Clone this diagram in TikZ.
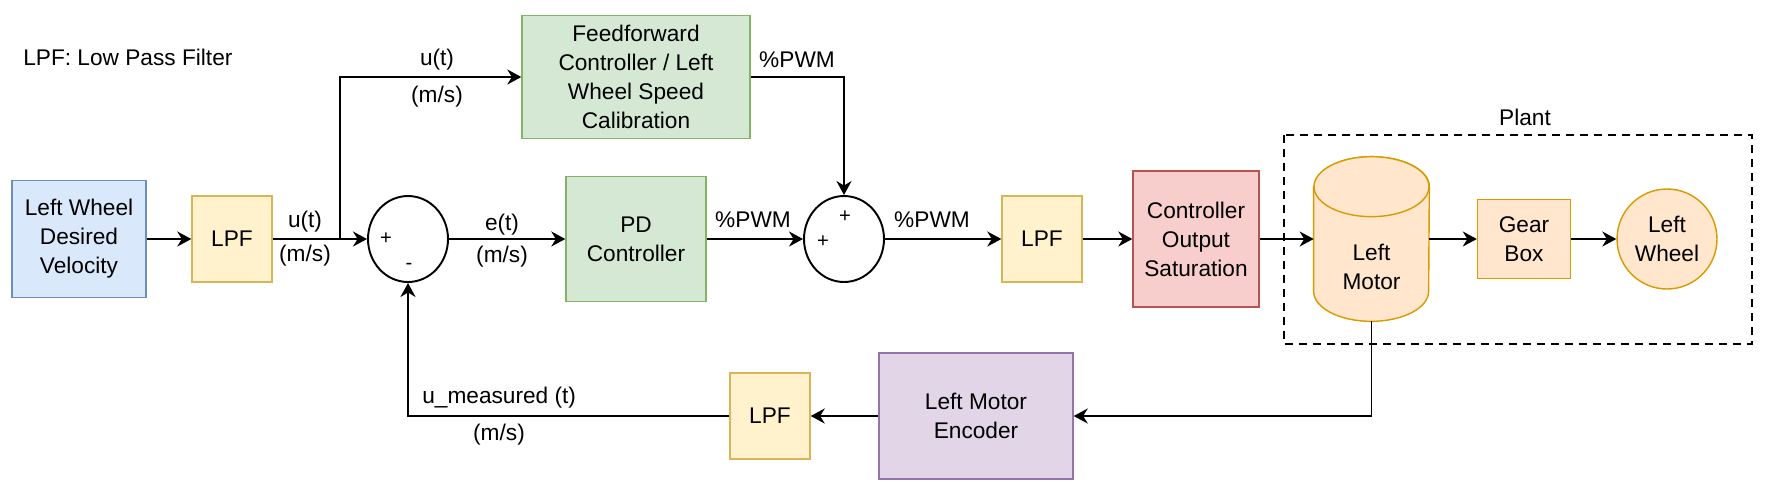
\documentclass[tikz,border=0pt]{standalone}
\usepackage{fontspec}
\setmainfont{Liberation Sans}
\usetikzlibrary{arrows.meta,shapes.geometric}

\definecolor{blueFill}{HTML}{DAE8FC}
\definecolor{blueLine}{HTML}{6C8EBF}
\definecolor{lpfFill}{HTML}{FFF2CC}
\definecolor{lpfLine}{HTML}{D6B656}
\definecolor{greenFill}{HTML}{D5E8D4}
\definecolor{greenLine}{HTML}{82B366}
\definecolor{redFill}{HTML}{F8CECC}
\definecolor{redLine}{HTML}{B85450}
\definecolor{plantFill}{HTML}{FFE6CC}
\definecolor{plantLine}{HTML}{D79B00}
\definecolor{purpleFill}{HTML}{E1D5E7}
\definecolor{purpleLine}{HTML}{9673A6}

\tikzset{
  conn/.style={line width=1.1pt,-{Stealth[length=0.28cm,width=0.3cm,inset=0.09cm]}},
  box/.style={rectangle,line width=0.8pt},
  lpf/.style={box,draw=lpfLine,fill=lpfFill,minimum width=1.6cm,minimum height=1.72cm},
  sumj/.style={ellipse,draw,line width=1.1pt,minimum width=1.6cm,minimum height=1.72cm},
  sign/.style={font=\fontsize{11.5}{13}\selectfont},
  plantpart/.style={draw=plantLine,fill=plantFill,line width=0.8pt},
  plantbox/.style={line width=1.1pt,dash pattern=on 0.16cm off 0.12cm}
}

\begin{document}
\begin{tikzpicture}[x=0.02cm,y=-0.02cm]
\tikzstyle{every node}+=[inner sep=0pt,align=center,font=\fontsize{12.9}{16.5}\selectfont]
\useasboundingbox (0,0) rectangle (1765,495);

% legend and plant frame
\node[anchor=west] (legend) at (23,57) {LPF: Low Pass Filter};
\draw[plantbox] (1284,135) rectangle (1752,344);
\node (plantlbl) at (1525,117) {Plant};

% forward path
\node[box,draw=blueLine,fill=blueFill,minimum width=2.68cm,minimum height=2.34cm] (lwv) at (79,239) {Left Wheel\\Desired\\Velocity};
\node[lpf] (lpfA) at (232,239) {LPF};
\node[sumj] (sumA) at (408,239) {};
\node[sign] (sumAp) at (386,239) {+};
\node[sign] (sumAm) at (409,266) {-};
\node[box,draw=greenLine,fill=greenFill,minimum width=4.56cm,minimum height=2.46cm] (ff) at (636,77) {Feedforward\\Controller / Left\\Wheel Speed\\Calibration};
\node[box,draw=greenLine,fill=greenFill,minimum width=2.8cm,minimum height=2.5cm] (pd) at (636,239) {PD\\Controller};
\node[sumj] (sumB) at (844,239) {};
\node[sign] (sumBt) at (845,217) {+};
\node[sign] (sumBl) at (823,242) {+};
\node[lpf] (lpfB) at (1042,239) {LPF};
\node[box,draw=redLine,fill=redFill,minimum width=2.52cm,minimum height=2.72cm] (sat) at (1196,239) {Controller\\Output\\Saturation};

% plant
\node[minimum width=2.3cm,minimum height=3.28cm] (motor) at (1371.5,239) {};
\filldraw[plantpart] ([yshift=-0.6cm]motor.north west) -- ([yshift=0.6cm]motor.south west)
  arc[start angle=180,end angle=360,x radius=1.15cm,y radius=0.6cm]
  -- ([yshift=-0.6cm]motor.north east)
  arc[start angle=0,end angle=180,x radius=1.15cm,y radius=0.6cm] -- cycle;
\draw[plantpart] ([yshift=-0.6cm]motor.north) ellipse[x radius=1.15cm,y radius=0.6cm];
\node (motorlbl) at (1371.5,267) {Left\\Motor};
\node[box,plantpart,minimum width=1.86cm,minimum height=1.58cm] (gear) at (1524,239) {Gear\\Box};
\node[circle,plantpart,minimum size=2cm] (wheel) at (1667,239) {Left\\Wheel};

% feedback path
\node[box,draw=purpleLine,fill=purpleFill,minimum width=3.88cm,minimum height=2.52cm] (enc) at (976,416) {Left Motor\\Encoder};
\node[lpf] (lpfC) at (770,416) {LPF};

% connectors
\coordinate (split) at (340,239);
\draw[conn] (lwv) -- (lpfA);
\draw[conn] (lpfA) -- (sumA);
\draw[conn] (split) |- (ff.west);
\draw[conn] (sumA) -- (pd);
\draw[conn] (pd) -- (sumB);
\draw[conn] (ff.east) -| (sumB.north);
\draw[conn] (sumB) -- (lpfB);
\draw[conn] (lpfB) -- (sat);
\draw[conn] (sat) -- (motor);
\draw[conn] (motor) -- (gear);
\draw[conn] (gear) -- (wheel);
\draw[conn] (motor.south) |- (enc.east);
\draw[conn] (enc) -- (lpfC);
\draw[conn] (lpfC.west) -| (sumA.south);

% signal labels
\node (uA) at (305,222) {u(t)};
\node (msA) at (305,256) {(m/s)};
\node (uB) at (437,60) {u(t)};
\node (msB) at (437,97) {(m/s)};
\node (eA) at (502,225) {e(t)};
\node (msC) at (502,257) {(m/s)};
\node (pwmA) at (753,220) {\%PWM};
\node (pwmB) at (797,60) {\%PWM};
\node (pwmC) at (932,220) {\%PWM};
\node[anchor=west] (umeas) at (422,398) {u\_measured (t)};
\node (msD) at (499,435) {(m/s)};
\end{tikzpicture}
\end{document}
